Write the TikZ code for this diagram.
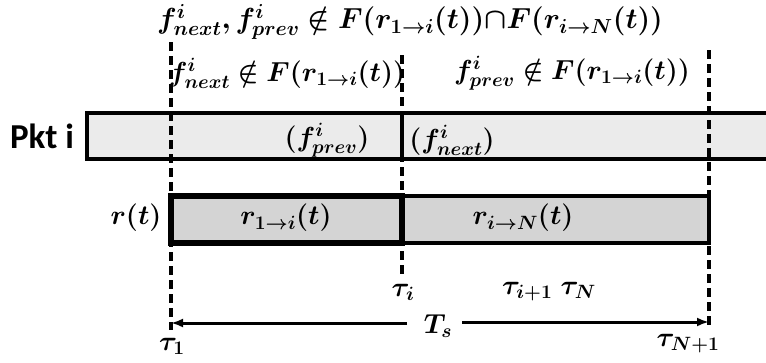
\RequirePackage{fix-cm}
\documentclass[tikz,border=0pt]{standalone}
\usepackage{amsmath,amssymb,bm}
\usepackage{fontspec}
\newfontfamily\pktfont{Carlito}
\usetikzlibrary{arrows.meta}
\tikzset{
  mathlbl/.style={inner sep=0pt, font=\fontsize{27.5}{31}\selectfont},
  guide/.style={line width=3.5pt, dash pattern=on 9pt off 5pt},
  pktbar/.style={line width=3.5pt, fill=black!8},
  rbar/.style={fill=black!17},
  timearrow/.style={line width=3pt, -{Latex[length=12pt,width=9pt]}}
}
\begin{document}
\begin{tikzpicture}[x=1pt,y=-1pt]
\useasboundingbox (0,0) rectangle (766,362);
% coordinates
\coordinate (x1top) at (171,42);
\coordinate (x1bot) at (171,330);
\coordinate (xitop) at (402,55);
\coordinate (xibot) at (402,277);
\coordinate (xNtop) at (709,50);
\coordinate (xNbot) at (709,325);
% Pkt bar
\draw[pktbar] (87,113) rectangle (775,159);
\draw[line width=3.5pt] (402,113) -- (402,159);
% r bar
\draw[rbar, line width=3.5pt] (402,196) rectangle (709,243);
\fill[rbar] (171,196) rectangle (402,243);
\draw[line width=6pt, line cap=rect] (171,196) rectangle (402,243);
% guides
\draw[guide] (x1top) -- (x1bot);
\draw[guide] (xitop) -- (xibot);
\draw[guide] (xNtop) -- (xNbot);
% texts
\node[mathlbl, font=\fontsize{29}{33}\selectfont] (title) at (410,22) {$\bm{f^{i}_{next}{,}\, f^{i}_{prev} \notin F(r_{1\to i}(t)){\cap}F(r_{i\to N}(t))}$};
\node[mathlbl] (cond1) at (287,73) {$\bm{f^{i}_{next} \notin F(r_{1\to i}(t))}$};
\node[mathlbl] (cond2) at (572,73) {$\bm{f^{i}_{prev} \notin F(r_{1\to i}(t))}$};
\node[inner sep=0pt, font=\pktfont\bfseries\fontsize{35}{38}\selectfont] (pkt) at (42,136) {Pkt i};
\node[mathlbl] (fprev) at (327,140) {$\bm{(f^{i}_{prev})}$};
\node[mathlbl] (fnext) at (452,140) {$\bm{(f^{i}_{next})}$};
\node[mathlbl] (rt) at (136,218) {$\bm{r(t)}$};
\node[mathlbl] (r1i) at (286,218) {$\bm{r_{1\to i}(t)}$};
\node[mathlbl] (riN) at (523,218) {$\bm{r_{i\to N}(t)}$};
\node[mathlbl] (taui) at (403,292) {$\bm{\tau_{i}}$};
\node[mathlbl] (tauiN) at (549,292) {$\bm{\tau_{i+1}\ \tau_{N}}$};
\node[mathlbl] (Ts) at (438,326) {$\bm{T_{s}}$};
\node[mathlbl] (tau1) at (172,346) {$\bm{\tau_{1}}$};
\node[mathlbl] (tauN1) at (688,344) {$\bm{\tau_{N+1}}$};
% arrows
\coordinate (a1) at (171,323);
\coordinate (a2) at (709,322);
\draw[timearrow] (407,323) -- (a1);
\draw[timearrow] (462,322) -- (a2);
\end{tikzpicture}
\end{document}
